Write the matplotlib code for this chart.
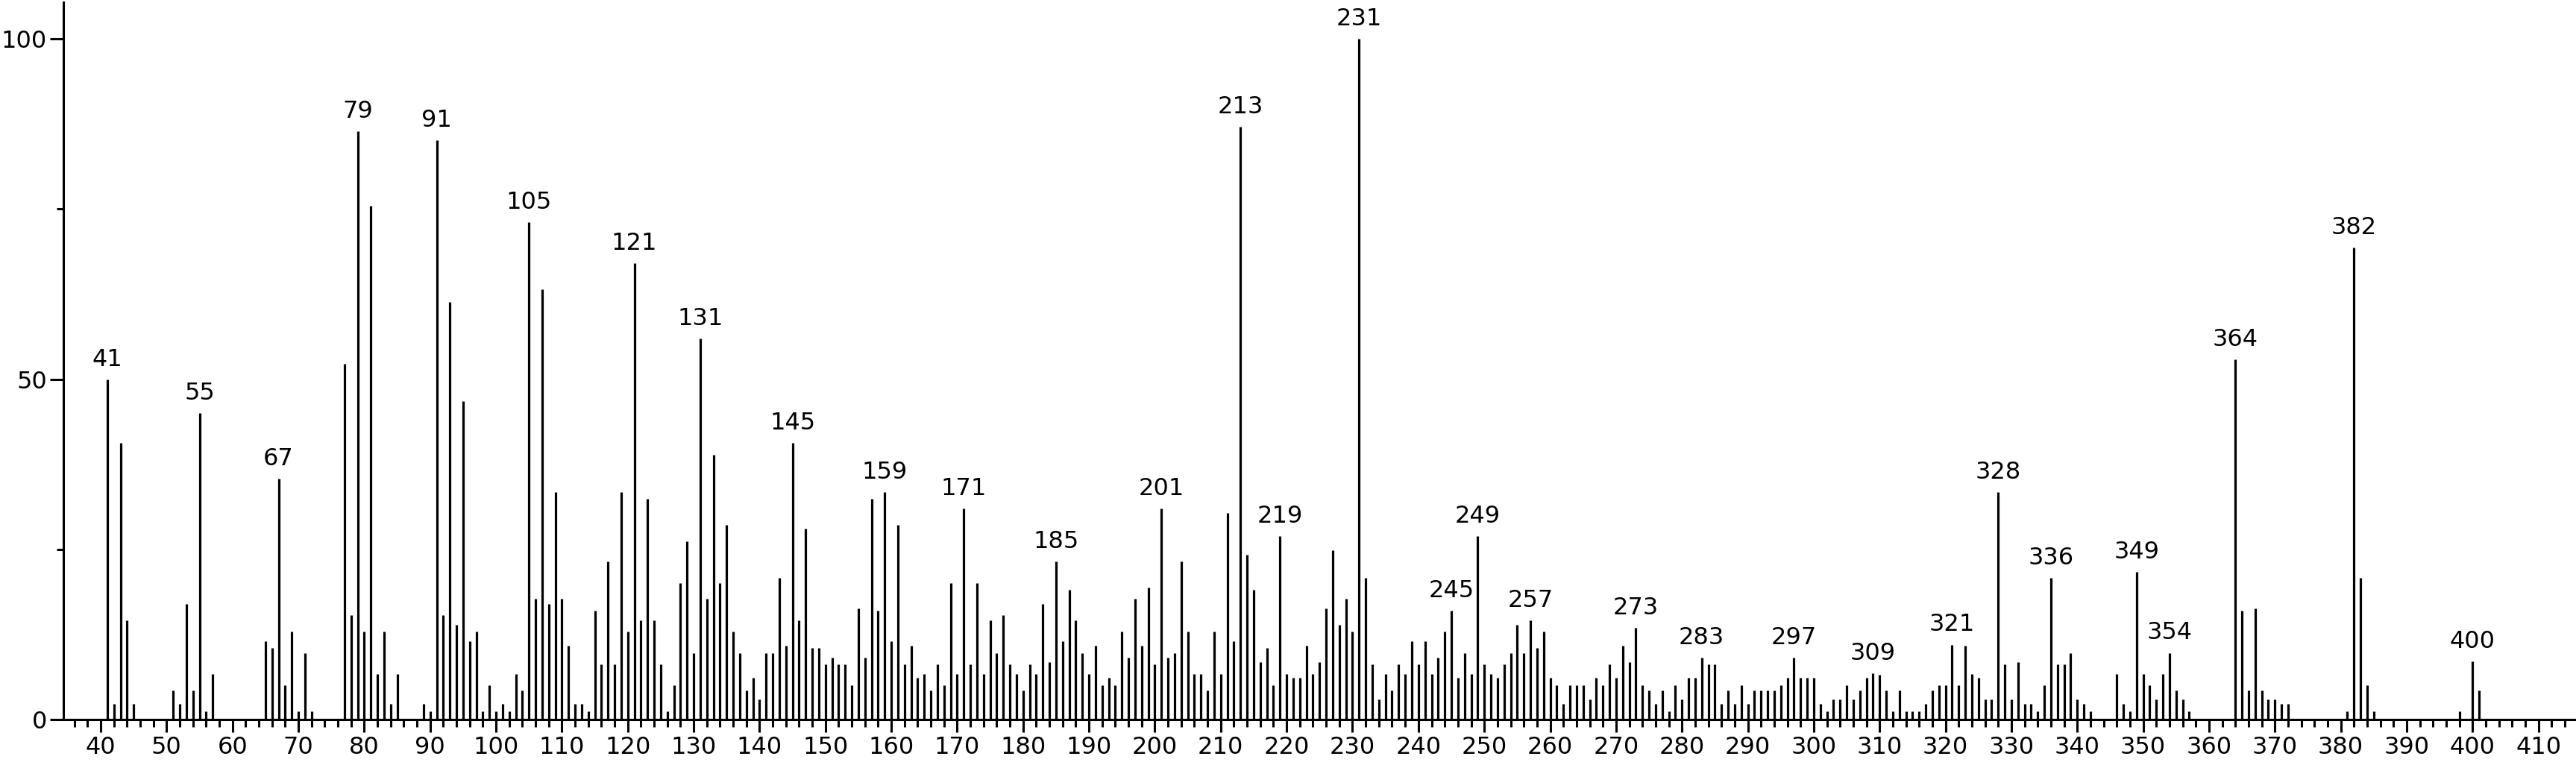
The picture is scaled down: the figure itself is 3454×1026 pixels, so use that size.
import matplotlib
matplotlib.use("Agg")
import matplotlib.pyplot as plt
from matplotlib.ticker import MultipleLocator, FixedLocator

# ---- data (m/z, relative intensity) ----
mz = [41, 42, 43, 44, 45, 51, 52, 53, 54, 55, 56, 57,
      65, 66, 67, 68, 69, 70, 71, 72,
      77, 78, 79, 80, 81, 82, 83, 84, 85,
      89, 90, 91, 92, 93, 94, 95, 96, 97, 98, 99, 100, 101, 102, 103, 104,
      105, 106, 107, 108, 109, 110, 111, 112, 113, 114, 115, 116, 117, 118, 119, 120,
      121, 122, 123, 124, 125, 126, 127, 128, 129, 130, 131, 132, 133, 134, 135, 136,
      137, 138, 139, 140, 141, 142, 143, 144, 145, 146, 147, 148, 149, 150, 151, 152,
      153, 154, 155, 156, 157, 158, 159, 160, 161, 162, 163, 164, 165, 166, 167, 168,
      169, 170, 171, 172, 173, 174, 175, 176, 177, 178, 179, 180, 181, 182, 183, 184,
      185, 186, 187, 188, 189, 190, 191, 192, 193, 194, 195, 196, 197, 198, 199, 200,
      201, 202, 203, 204, 205, 206, 207, 208, 209, 210, 211, 212, 213, 214, 215, 216,
      217, 218, 219, 220, 221, 222, 223, 224, 225, 226, 227, 228, 229, 230, 231, 232,
      233, 234, 235, 236, 237, 238, 239, 240, 241, 242, 243, 244, 245, 246, 247, 248,
      249, 250, 251, 252, 253, 254, 255, 256, 257, 258, 259, 260, 261, 262, 263, 264,
      265, 266, 267, 268, 269, 270, 271, 272, 273, 274, 275, 276, 277, 278, 279, 280,
      281, 282, 283, 284, 285, 286, 287, 288, 289, 290, 291, 292, 293, 294, 295, 296,
      297, 298, 299, 300, 301, 302, 303, 304, 305, 306, 307, 308, 309, 310, 311, 312,
      313, 314, 315, 316, 317, 318, 319, 320, 321, 322, 323, 324, 325, 326, 327, 328,
      329, 330, 331, 332, 333, 334, 335, 336, 337, 338, 339, 340, 341, 342,
      346, 347, 348, 349, 350, 351, 352, 353, 354, 355, 356, 357,
      364, 365, 366, 367, 368, 369, 370, 371, 372,
      381, 382, 383, 384, 385, 398, 400, 401]

intensity = [50.0, 2.3, 40.6, 14.6, 2.3, 4.3, 2.3, 17.0, 4.3, 45.0, 1.2, 6.7,
             11.5, 10.5, 35.4, 5.0, 12.9, 1.2, 9.8, 1.2,
             52.3, 15.3, 86.4, 12.9, 75.5, 6.7, 12.9, 2.3, 6.7,
             2.3, 1.2, 85.1, 15.3, 61.4, 13.9, 46.8, 11.5, 12.9, 1.2, 5.0, 1.2, 2.3, 1.2, 6.7, 4.3,
             73.1, 17.7, 63.2, 17.0, 33.4, 17.7, 10.8, 2.3, 2.3, 1.2, 16.0, 8.1, 23.2, 8.1, 33.4, 12.9,
             67.0, 14.6, 32.4, 14.6, 8.1, 1.2, 5.0, 20.1, 26.2, 9.8, 56.0, 17.7, 38.9, 20.1, 28.6, 12.9,
             9.8, 4.3, 6.1, 3.0, 9.8, 9.8, 20.8, 10.8, 40.6, 14.6, 28.0, 10.5, 10.5, 8.1, 9.1, 8.1,
             8.1, 5.0, 16.3, 9.1, 32.4, 16.0, 33.4, 11.5, 28.6, 8.1, 10.8, 6.1, 6.7, 4.3, 8.1, 5.0,
             20.1, 6.7, 31.0, 8.1, 20.1, 6.7, 14.6, 9.8, 15.3, 8.1, 6.7, 4.3, 8.1, 6.7, 17.0, 8.4,
             23.2, 11.5, 19.1, 14.6, 9.8, 6.7, 10.8, 5.0, 6.1, 5.0, 12.9, 9.1, 17.7, 10.8, 19.4, 8.1,
             31.0, 9.1, 9.8, 23.2, 12.9, 6.7, 6.7, 4.3, 12.9, 6.7, 30.3, 11.5, 87.1, 24.2, 19.1, 8.4,
             10.5, 5.0, 26.9, 6.7, 6.1, 6.1, 10.8, 6.7, 8.4, 16.3, 24.9, 13.9, 17.7, 12.9, 100.0, 20.8,
             8.1, 3.0, 6.7, 4.3, 8.1, 6.7, 11.5, 8.1, 11.5, 6.7, 9.1, 12.9, 16.0, 6.1, 9.8, 6.7,
             26.9, 8.1, 6.7, 6.1, 8.1, 9.8, 13.9, 9.8, 14.6, 10.5, 12.9, 6.1, 5.0, 2.3, 5.0, 5.0,
             5.0, 3.0, 6.1, 5.0, 8.1, 6.1, 10.8, 8.4, 13.5, 5.0, 4.3, 2.3, 4.3, 1.2, 5.0, 3.0,
             6.1, 6.1, 9.1, 8.1, 8.1, 2.3, 4.3, 2.3, 5.0, 2.3, 4.3, 4.3, 4.3, 4.3, 5.0, 6.1,
             9.1, 6.1, 6.1, 6.1, 2.3, 1.2, 3.0, 3.0, 5.0, 3.0, 4.3, 6.1, 6.8, 6.6, 4.3, 1.2,
             4.3, 1.2, 1.2, 1.2, 2.3, 4.3, 5.0, 5.0, 11.0, 5.0, 10.8, 6.7, 6.1, 3.0, 3.0, 33.4,
             8.1, 3.0, 8.4, 2.3, 2.3, 1.2, 5.0, 20.8, 8.1, 8.1, 9.8, 3.0, 2.3, 1.2,
             6.7, 2.3, 1.2, 21.7, 6.7, 5.0, 3.0, 6.7, 9.8, 4.3, 3.0, 1.2,
             52.9, 16.0, 4.3, 16.3, 4.3, 3.0, 3.0, 2.3, 2.3,
             1.2, 69.3, 20.8, 5.0, 1.2, 1.2, 8.5, 4.3]

labeled_mz = [41, 55, 67, 79, 91, 105, 121, 131, 145, 159, 171, 185, 201, 213,
              219, 231, 245, 249, 257, 273, 283, 297, 309, 321, 328, 336, 349,
              354, 364, 382, 400]

x_major_ticks = list(range(40, 411, 10))
y_major_ticks = [0, 50, 100]
y_minor_ticks = [25, 75]

# ---- figure ----
W, H, DPI = 3454, 1026, 100
fig = plt.figure(figsize=(W / DPI, H / DPI), dpi=DPI)
left_px, right_px, bottom_px, top_px = 85, 3454, 965, 3
ax = fig.add_axes([left_px / W, 1 - bottom_px / H,
                   (right_px - left_px) / W, (bottom_px - top_px) / H])

ax.vlines(mz, 0, intensity, colors="black", linewidth=2.3)

lookup = dict(zip(mz, intensity))
for m in labeled_mz:
    ax.annotate(str(m), xy=(m, lookup[m]), xytext=(0, 8),
                textcoords="offset points", ha="center", va="bottom",
                fontsize=23, family="DejaVu Sans", color="black")

ax.set_xlim(34.34, 415.7)
ax.set_ylim(0, 105.4)

for s in ("top", "right"):
    ax.spines[s].set_visible(False)
for s in ("left", "bottom"):
    ax.spines[s].set_linewidth(2.2)
    ax.spines[s].set_color("black")

ax.xaxis.set_major_locator(FixedLocator(x_major_ticks))
ax.xaxis.set_minor_locator(MultipleLocator(2))
ax.yaxis.set_major_locator(FixedLocator(y_major_ticks))
ax.yaxis.set_minor_locator(FixedLocator(y_minor_ticks))

ax.tick_params(axis="x", which="major", length=12, width=2.2, direction="out",
               labelsize=23, pad=4)
ax.tick_params(axis="x", which="minor", length=7, width=2.2, direction="out")
ax.tick_params(axis="y", which="major", length=13, width=2.2, direction="out",
               labelsize=23, pad=3)
ax.tick_params(axis="y", which="minor", length=6.5, width=2.2, direction="out")

fig.savefig("out.png", dpi=DPI)
